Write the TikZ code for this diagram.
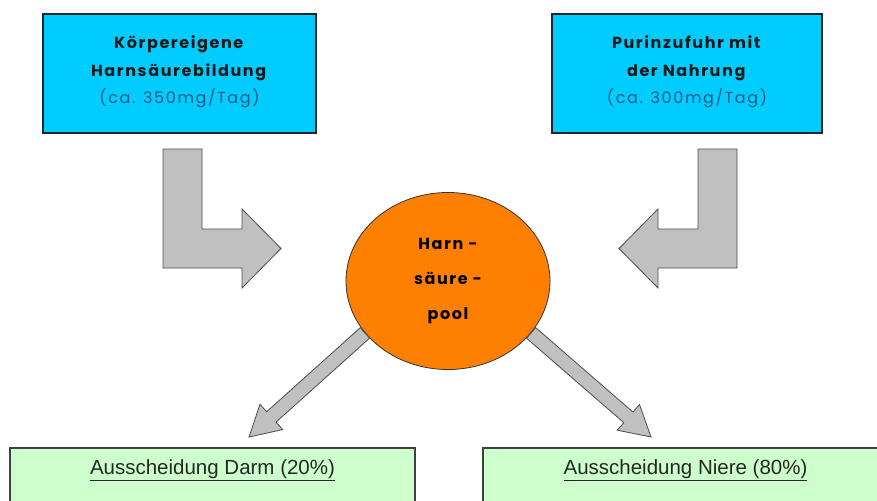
\documentclass[tikz,border=0pt]{standalone}
\usepackage{fontspec}
\setmainfont{Liberation Sans}
\newfontfamily\comicfont[LetterSpace=10]{Poppins}
\usetikzlibrary{calc,shapes.geometric}
\definecolor{boxcyan}{RGB}{0,204,255}
\definecolor{boxgreen}{RGB}{204,255,204}
\definecolor{poolorange}{RGB}{255,128,0}
\definecolor{arrowgray}{RGB}{192,192,192}
\definecolor{notetext}{RGB}{30,90,130}
\tikzset{
	inbox/.style={draw=black!85, line width=1.5pt, fill=boxcyan},
	outbox/.style={draw=black!75, line width=1.5pt, fill=boxgreen},
	blockarrow/.style={draw=black!70, line width=0.8pt, fill=arrowgray},
	intext/.style={align=center, text=black!90, font=\comicfont\fontsize{16}{27.5}\selectfont},
	outtext/.style={text=black!85, font=\fontsize{20.5}{22}\selectfont},
	pool/.style={ellipse, draw=black!80, line width=0.8pt, fill=poolorange, minimum width=204pt, minimum height=177pt, inner sep=0pt, align=center, font=\comicfont\bfseries\fontsize{16}{35}\selectfont}
}

\begin{document}
\begin{tikzpicture}[x=1pt,y=-1pt]
	\useasboundingbox (0,0) rectangle (877,500);
	\clip (0,0) rectangle (877,500);
	\fill[white] (0,0) rectangle (877,500);
	% Zufuhr
	\draw[inbox] (43,14) rectangle (316,133) node[pos=.5, intext, yshift=1.5pt] (bildung) {\textbf{Körpereigene}\\\textbf{Harnsäurebildung}\\\textcolor{notetext}{(ca. 350mg/Tag)}};
	\draw[inbox] (552,14) rectangle (822,133) node[pos=.5, intext, yshift=1.5pt] (nahrung) {\textbf{Purinzufuhr mit}\\\textbf{der Nahrung}\\\textcolor{notetext}{(ca. 300mg/Tag)}};
	
	\draw[blockarrow] (163,149) -- (202,149) -- (202,229) -- (242,229) -- (242,209) -- (281,248.5) -- (242,288) -- (242,268) -- (163,268) -- cycle;
	\draw[blockarrow] (737,149) -- (698,149) -- (698,229) -- (658,229) -- (658,209) -- (619,248.5) -- (658,288) -- (658,268) -- (737,268) -- cycle;
	
	\node[pool] (pool) at (448,281) {Harn -\\säure -\\pool};
	
	% Ausscheidung
	\draw[outbox] (10,448) rectangle (415,540);
	\node[outtext] (darm) at (212.5,470) {\underline{Ausscheidung Darm (20\%)}};
	\draw[outbox] (483,448) rectangle (888,540);
	\node[outtext] (niere) at (685.5,470) {\underline{Ausscheidung Niere (80\%)}};
	
	\coordinate (darmtail) at (pool.212);
	\coordinate (darmtip) at (249,437);
	\coordinate (darmhead) at ($(darmtip)!30pt!(darmtail)$);
	\draw[blockarrow] ($(darmtail)!7pt!90:(darmtip)$) -- ($(darmhead)!7pt!90:(darmtip)$) -- ($(darmhead)!17pt!90:(darmtip)$) -- (darmtip) -- ($(darmhead)!17pt!-90:(darmtip)$) -- ($(darmhead)!7pt!-90:(darmtip)$) -- ($(darmtail)!7pt!-90:(darmtip)$) -- cycle;
	
	\coordinate (nieretail) at (pool.328);
	\coordinate (nieretip) at (651,437);
	\coordinate (nierehead) at ($(nieretip)!30pt!(nieretail)$);
	\draw[blockarrow] ($(nieretail)!7pt!90:(nieretip)$) -- ($(nierehead)!7pt!90:(nieretip)$) -- ($(nierehead)!17pt!90:(nieretip)$) -- (nieretip) -- ($(nierehead)!17pt!-90:(nieretip)$) -- ($(nierehead)!7pt!-90:(nieretip)$) -- ($(nieretail)!7pt!-90:(nieretip)$) -- cycle;
\end{tikzpicture}
\end{document}
